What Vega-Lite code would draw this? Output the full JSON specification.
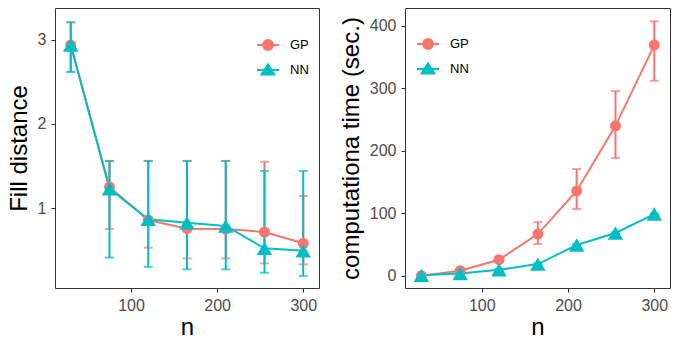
{
  "$schema": "https://vega.github.io/schema/vega-lite/v6.json",
  "padding": {"left": 6, "top": 7, "right": 9, "bottom": 0},
  "spacing": 18,
  "datasets": {
    "d": [
      {"n": 30, "method": "GP", "fd": 2.94, "fdlo": 2.62, "fdhi": 3.21, "time": 0.5, "tlo": 0, "thi": 1.5},
      {"n": 75, "method": "GP", "fd": 1.25, "fdlo": 0.75, "fdhi": 1.56, "time": 8.5, "tlo": 6, "thi": 11},
      {"n": 120, "method": "GP", "fd": 0.857, "fdlo": 0.527, "fdhi": 1.56, "time": 26, "tlo": 22, "thi": 30},
      {"n": 165, "method": "GP", "fd": 0.754, "fdlo": 0.40, "fdhi": 1.56, "time": 67, "tlo": 51, "thi": 86},
      {"n": 210, "method": "GP", "fd": 0.75, "fdlo": 0.40, "fdhi": 1.56, "time": 136, "tlo": 107, "thi": 171},
      {"n": 255, "method": "GP", "fd": 0.714, "fdlo": 0.34, "fdhi": 1.55, "time": 240, "tlo": 188.5, "thi": 295.5},
      {"n": 300, "method": "GP", "fd": 0.58, "fdlo": 0.33, "fdhi": 1.143, "time": 369, "tlo": 312, "thi": 407},
      {"n": 30, "method": "NN", "fd": 2.94, "fdlo": 2.62, "fdhi": 3.21, "time": 1, "tlo": 0.5, "thi": 1.5},
      {"n": 75, "method": "NN", "fd": 1.23, "fdlo": 0.41, "fdhi": 1.56, "time": 4, "tlo": 3, "thi": 5},
      {"n": 120, "method": "NN", "fd": 0.865, "fdlo": 0.30, "fdhi": 1.56, "time": 10, "tlo": 9, "thi": 11},
      {"n": 165, "method": "NN", "fd": 0.825, "fdlo": 0.27, "fdhi": 1.56, "time": 19, "tlo": 18, "thi": 20},
      {"n": 210, "method": "NN", "fd": 0.786, "fdlo": 0.27, "fdhi": 1.56, "time": 49.5, "tlo": 48.5, "thi": 50.5},
      {"n": 255, "method": "NN", "fd": 0.52, "fdlo": 0.23, "fdhi": 1.44, "time": 68.7, "tlo": 67.5, "thi": 70},
      {"n": 300, "method": "NN", "fd": 0.49, "fdlo": 0.19, "fdhi": 1.44, "time": 99, "tlo": 98, "thi": 100}
    ]
  },
  "config": {
    "view": {"stroke": "#333333", "strokeWidth": 1},
    "axis": {
      "domain": false, "grid": false, "tickColor": "#333333", "tickSize": 4, "tickWidth": 1,
      "labelFont": "Liberation Sans", "labelFontSize": 16, "labelColor": "#4D4D4D", "labelPadding": 5,
      "titleFont": "Liberation Sans", "titleFontSize": 24, "titleFontWeight": "normal", "titleColor": "#000000"
    },
    "axisX": {"titlePadding": 2},
    "axisY": {"titlePadding": 6},
    "legend": {"padding": 0, "labelFont": "Liberation Sans", "labelFontSize": 13, "labelColor": "#000000"}
  },
  "resolve": {"legend": {"color": "independent"}},
  "hconcat": [
    {
      "width": 264, "height": 280,
      "data": {"name": "d"},
      "encoding": {
        "x": {"field": "n", "type": "quantitative", "scale": {"domain": [11.7, 318.3], "nice": false, "zero": false}, "axis": {"values": [100, 200, 300], "title": "n"}},
        "color": {"field": "method", "type": "nominal", "scale": {"domain": ["GP", "NN"], "range": ["#F8766D", "#00BFC4"]},
          "legend": {"orient": "none", "legendX": 201, "legendY": 25, "title": null, "symbolSize": 484, "labelOffset": 10, "rowPadding": 4,
            "encoding": {"symbols": {
              "shape": {"value": {"expr": "datum.value === 'GP' ? 'M-1,0H1M0.45,0A0.45,0.45,0,1,1,-0.45,0A0.45,0.45,0,1,1,0.45,0Z' : 'M-1,0H1M0,-0.5L0.58,0.42L-0.58,0.42Z'"}},
              "fill": {"value": {"expr": "datum.value === 'GP' ? '#F8766D' : '#00BFC4'"}},
              "stroke": {"value": {"expr": "datum.value === 'GP' ? '#F8766D' : '#00BFC4'"}},
              "strokeWidth": {"value": 2},
              "opacity": {"value": 1}
            }}}}
      },
      "layer": [
        {
          "mark": {"type": "errorbar", "ticks": {"size": 9}, "thickness": 2},
          "encoding": {
            "y": {"field": "fdlo", "type": "quantitative", "scale": {"domain": [0.048, 3.38], "nice": false, "zero": false}, "axis": {"values": [1, 2, 3], "format": "d", "title": "Fill distance"}},
            "y2": {"field": "fdhi"}
          }
        },
        {
          "mark": {"type": "line", "strokeWidth": 2},
          "encoding": {"y": {"field": "fd", "type": "quantitative"}}
        },
        {
          "mark": {"type": "point", "filled": true, "opacity": 1},
          "encoding": {
            "y": {"field": "fd", "type": "quantitative"},
            "shape": {"field": "method", "type": "nominal", "scale": {"domain": ["GP", "NN"], "range": ["circle", "triangle-up"]}, "legend": null},
            "size": {"field": "method", "type": "nominal", "scale": {"domain": ["GP", "NN"], "range": [121, 240]}, "legend": null}
          }
        }
      ]
    },
    {
      "width": 265, "height": 280,
      "data": {"name": "d"},
      "encoding": {
        "x": {"field": "n", "type": "quantitative", "scale": {"domain": [11, 318.2], "nice": false, "zero": false}, "axis": {"values": [100, 200, 300], "title": "n"}},
        "color": {"field": "method", "type": "nominal", "scale": {"domain": ["GP", "NN"], "range": ["#F8766D", "#00BFC4"]},
          "legend": {"orient": "none", "legendX": 11, "legendY": 24, "title": null, "symbolSize": 484, "labelOffset": 10, "rowPadding": 4,
            "encoding": {"symbols": {
              "shape": {"value": {"expr": "datum.value === 'GP' ? 'M-1,0H1M0.45,0A0.45,0.45,0,1,1,-0.45,0A0.45,0.45,0,1,1,0.45,0Z' : 'M-1,0H1M0,-0.5L0.58,0.42L-0.58,0.42Z'"}},
              "fill": {"value": {"expr": "datum.value === 'GP' ? '#F8766D' : '#00BFC4'"}},
              "stroke": {"value": {"expr": "datum.value === 'GP' ? '#F8766D' : '#00BFC4'"}},
              "strokeWidth": {"value": 2},
              "opacity": {"value": 1}
            }}}}
      },
      "layer": [
        {
          "mark": {"type": "errorbar", "ticks": {"size": 9}, "thickness": 2},
          "encoding": {
            "y": {"field": "tlo", "type": "quantitative", "scale": {"domain": [-19.2, 428.3], "nice": false, "zero": false}, "axis": {"values": [0, 100, 200, 300, 400], "title": "computationa time (sec.)"}},
            "y2": {"field": "thi"}
          }
        },
        {
          "mark": {"type": "line", "strokeWidth": 2},
          "encoding": {"y": {"field": "time", "type": "quantitative"}}
        },
        {
          "mark": {"type": "point", "filled": true, "opacity": 1},
          "encoding": {
            "y": {"field": "time", "type": "quantitative"},
            "shape": {"field": "method", "type": "nominal", "scale": {"domain": ["GP", "NN"], "range": ["circle", "triangle-up"]}, "legend": null},
            "size": {"field": "method", "type": "nominal", "scale": {"domain": ["GP", "NN"], "range": [121, 240]}, "legend": null}
          }
        }
      ]
    }
  ]
}
